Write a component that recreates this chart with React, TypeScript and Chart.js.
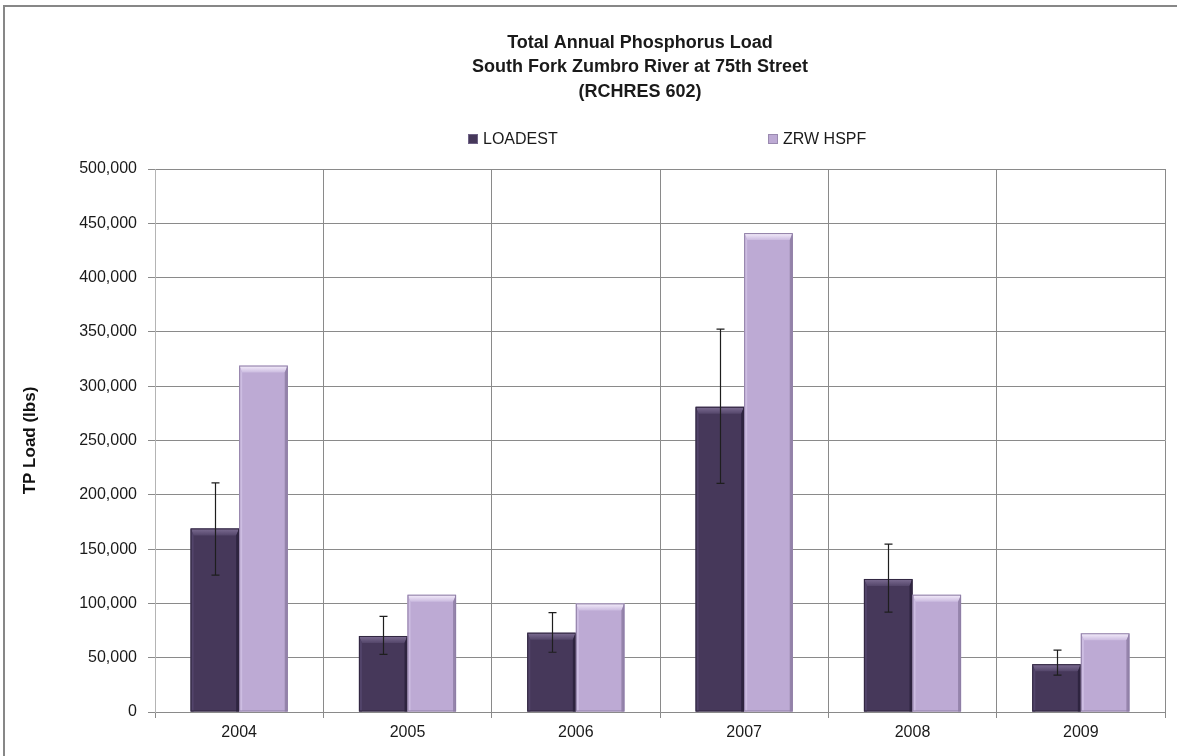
import React, { useEffect, useRef } from 'react';
import { Chart, registerables } from 'chart.js';

Chart.register(...registerables);

const titleLines = [
  'Total Annual Phosphorus Load',
  'South Fork Zumbro River at 75th Street',
  '(RCHRES 602)',
];
const yAxisTitle = 'TP Load (lbs)';
const categories = ['2004', '2005', '2006', '2007', '2008', '2009'];
const seriesNames = ['LOADEST', 'ZRW HSPF'];
const loadest = [169000, 70000, 73000, 281000, 122500, 44000];
const zrwHspf = [319000, 108000, 100000, 441000, 108000, 72500];
const loadestHigh = [211000, 88000, 91500, 352500, 154500, 57000];
const loadestLow = [126000, 53000, 55000, 210500, 92000, 34000];
const yTicks = [0, 50000, 100000, 150000, 200000, 250000, 300000, 350000, 400000, 450000, 500000];

const FONT = '"Liberation Sans", Arial, sans-serif';
const DARK = '#46385a';
const LIGHT = '#bdaad4';

const bevelStyles = [
  { topHi: '#7e6e94', topLo: '#54466a', left: '#52446a', right: '#2e2440', edge: '#30263f' },
  { topHi: '#f6effc', topLo: '#cbbbe0', left: '#cdbde2', right: '#9584ab', edge: '#8f7fa6' },
];

export default function App() {
  const ref = useRef<HTMLCanvasElement>(null);

  useEffect(() => {
    const canvas = ref.current;
    if (!canvas) return;

    const framePlugin = {
      id: 'frame',
      beforeDraw(chart: any) {
        const { ctx, width, height } = chart;
        ctx.save();
        ctx.fillStyle = '#ffffff';
        ctx.fillRect(0, 0, width, height);
        ctx.strokeStyle = '#878787';
        ctx.lineWidth = 2;
        ctx.strokeRect(4, 6, width + 20, height + 20);
        ctx.restore();
      },
    };

    const bevelPlugin = {
      id: 'bevel',
      afterDatasetsDraw(chart: any) {
        const ctx = chart.ctx;
        ctx.save();
        chart.data.datasets.forEach((_: any, i: number) => {
          const meta = chart.getDatasetMeta(i);
          const st = bevelStyles[i];
          meta.data.forEach((bar: any) => {
            const { x, y, base, width } = bar.getProps(['x', 'y', 'base', 'width'], true);
            const l = x - width / 2;
            const r = x + width / 2;
            const t = y;
            const b = base;
            const bv = 7;
            const sd = 3;
            const g = ctx.createLinearGradient(0, t, 0, t + bv);
            g.addColorStop(0, st.topHi);
            g.addColorStop(1, st.topLo);
            ctx.fillStyle = g;
            ctx.beginPath();
            ctx.moveTo(l, t);
            ctx.lineTo(r, t);
            ctx.lineTo(r - sd, t + bv);
            ctx.lineTo(l + sd, t + bv);
            ctx.closePath();
            ctx.fill();
            ctx.fillStyle = st.left;
            ctx.beginPath();
            ctx.moveTo(l, t);
            ctx.lineTo(l + sd, t + bv);
            ctx.lineTo(l + sd, b);
            ctx.lineTo(l, b);
            ctx.closePath();
            ctx.fill();
            ctx.fillStyle = st.right;
            ctx.beginPath();
            ctx.moveTo(r, t);
            ctx.lineTo(r, b);
            ctx.lineTo(r - sd, b);
            ctx.lineTo(r - sd, t + bv);
            ctx.closePath();
            ctx.fill();
            ctx.strokeStyle = st.edge;
            ctx.lineWidth = 1;
            ctx.strokeRect(l + 0.5, t + 0.5, width - 1, b - t - 1);
          });
        });
        ctx.restore();
      },
    };

    const errorPlugin = {
      id: 'errorBars',
      afterDatasetsDraw(chart: any) {
        const ctx = chart.ctx;
        const meta = chart.getDatasetMeta(0);
        const yScale = chart.scales.y;
        ctx.save();
        ctx.strokeStyle = '#1e1e1e';
        ctx.lineWidth = 1.2;
        meta.data.forEach((bar: any, idx: number) => {
          const x = Math.round(bar.x) + 0.5;
          const yh = yScale.getPixelForValue(loadestHigh[idx]);
          const yl = yScale.getPixelForValue(loadestLow[idx]);
          ctx.beginPath();
          ctx.moveTo(x, yh);
          ctx.lineTo(x, yl);
          ctx.moveTo(x - 4, yh);
          ctx.lineTo(x + 4, yh);
          ctx.moveTo(x - 4, yl);
          ctx.lineTo(x + 4, yl);
          ctx.stroke();
        });
        ctx.restore();
      },
    };

    const titlePlugin = {
      id: 'customTitle',
      afterDraw(chart: any) {
        const ctx = chart.ctx;
        ctx.save();
        ctx.fillStyle = '#1a1a1a';
        ctx.font = `bold 18px ${FONT}`;
        ctx.textAlign = 'center';
        ctx.textBaseline = 'middle';
        titleLines.forEach((line, i) => {
          ctx.fillText(line, 640, 43 + i * 24.5);
        });
        const items = [
          { x: 468, color: DARK, border: '#6f6386' },
          { x: 768, color: LIGHT, border: '#9a8ab0' },
        ];
        ctx.font = `16px ${FONT}`;
        ctx.textAlign = 'left';
        items.forEach((it, i) => {
          ctx.fillStyle = it.color;
          ctx.fillRect(it.x, 134, 10, 10);
          ctx.strokeStyle = it.border;
          ctx.lineWidth = 1;
          ctx.strokeRect(it.x + 0.5, 134.5, 9, 9);
          ctx.fillStyle = '#1a1a1a';
          ctx.fillText(seriesNames[i], it.x + 15, 139.5);
        });
        ctx.restore();
      },
    };

    const chart = new Chart(canvas, {
      type: 'bar',
      data: {
        labels: categories,
        datasets: [
          {
            label: seriesNames[0],
            data: loadest,
            backgroundColor: DARK,
            borderWidth: 0,
            categoryPercentage: 0.577,
            barPercentage: 1,
          },
          {
            label: seriesNames[1],
            data: zrwHspf,
            backgroundColor: LIGHT,
            borderWidth: 0,
            categoryPercentage: 0.577,
            barPercentage: 1,
          },
        ],
      },
      options: {
        responsive: false,
        animation: false,
        devicePixelRatio: 1,
        layout: { padding: { left: 0, right: 12, top: 169, bottom: 0 } },
        plugins: {
          legend: { display: false },
          title: { display: false },
          tooltip: { enabled: false },
        },
        scales: {
          x: {
            grid: {
              color: '#8a8a8a',
              lineWidth: 1,
              tickLength: 6,
              offset: true,
            },
            border: { color: '#8a8a8a' },
            ticks: {
              color: '#1a1a1a',
              font: { family: FONT, size: 16 },
              padding: 5,
              maxRotation: 0,
            },
            afterFit(axis: any) {
              axis.height = 44;
            },
          },
          y: {
            min: 0,
            max: 500000,
            afterBuildTicks(axis: any) {
              axis.ticks = yTicks.map((v) => ({ value: v }));
            },
            grid: {
              color: '#8a8a8a',
              lineWidth: 1,
              tickLength: 7,
            },
            border: { color: '#b4b4b4' },
            ticks: {
              color: '#1a1a1a',
              font: { family: FONT, size: 16 },
              padding: 11,
              callback: (v: any) => Number(v).toLocaleString('en-US'),
            },
            title: {
              display: true,
              text: yAxisTitle,
              color: '#111111',
              font: { family: FONT, size: 17, weight: 'bold' },
              padding: { top: 20, bottom: 0 },
            },
            afterFit(axis: any) {
              axis.width = 155;
            },
          },
        },
      },
      plugins: [framePlugin, bevelPlugin, errorPlugin, titlePlugin],
    });

    return () => {
      chart.destroy();
    };
  }, []);

  return (
    <div style={{ position: 'absolute', left: 0, top: 0, width: 1177, height: 756 }}>
      <canvas ref={ref} width={1177} height={756} style={{ display: 'block' }} />
    </div>
  );
}
